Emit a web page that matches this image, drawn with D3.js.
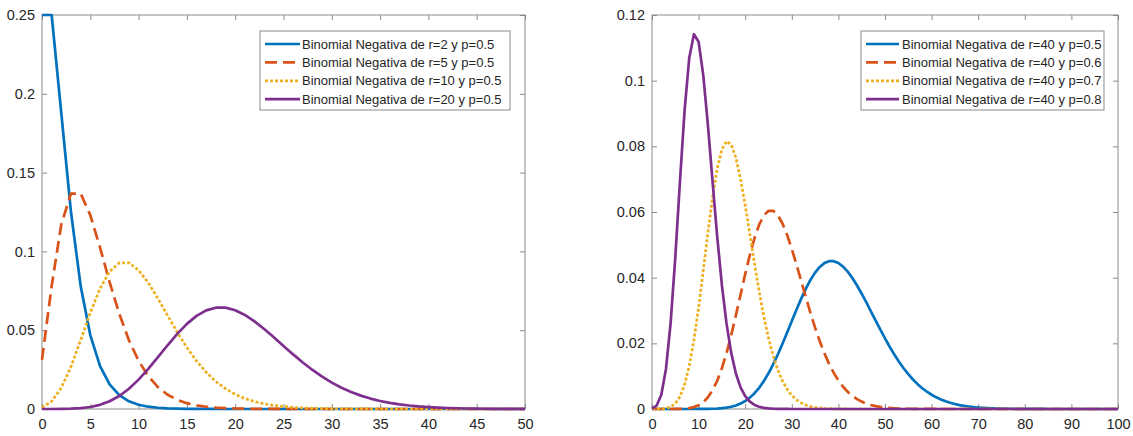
<!DOCTYPE html>
<html><head><meta charset="utf-8">
<script src="https://cdn.jsdelivr.net/npm/d3@7"></script>
<style>
body{margin:0;background:#fff}
svg{display:block}
text{font-family:"Liberation Sans",Arial,Helvetica,sans-serif}
</style>
</head><body>
<svg id="chart" width="1133" height="436"></svg>
<script>
// ---------- DATA ----------
const leftLabels = ["Binomial Negativa de r=2 y p=0.5","Binomial Negativa de r=5 y p=0.5","Binomial Negativa de r=10 y p=0.5","Binomial Negativa de r=20 y p=0.5"];
const rightLabels = ["Binomial Negativa de r=40 y p=0.5","Binomial Negativa de r=40 y p=0.6","Binomial Negativa de r=40 y p=0.7","Binomial Negativa de r=40 y p=0.8"];

const leftXTicks = [0,5,10,15,20,25,30,35,40,45,50];
const leftYTicks = [0,0.05,0.1,0.15,0.2,0.25];
const leftYTickLabels = ["0","0.05","0.1","0.15","0.2","0.25"];
const rightXTicks = [0,10,20,30,40,50,60,70,80,90,100];
const rightYTicks = [0,0.02,0.04,0.06,0.08,0.1,0.12];
const rightYTickLabels = ["0","0.02","0.04","0.06","0.08","0.1","0.12"];

// left panel, x = 0..50
const r2p5 = [0.25,0.25,0.1875,0.125,0.07813,0.04688,0.02734,0.01563,0.00879,0.00488,
  0.00269,0.00146,0.00079,0.00043,0.00023,0.00012,0.00006,0.00003,0.00002,0.00001,
  0,0,0,0,0,0,0,0,0,0,0,0,0,0,0,0,0,0,0,0,0,0,0,0,0,0,0,0,0,0,0];
const r5p5 = [0.03125,0.07813,0.11719,0.13672,0.13672,0.12305,0.10254,0.08057,0.06042,0.04364,
  0.03055,0.02083,0.01389,0.00908,0.00584,0.0037,0.00231,0.00143,0.00087,0.00053,
  0.00032,0.00019,0.00011,0.00007,0.00004,0.00002,
  0,0,0,0,0,0,0,0,0,0,0,0,0,0,0,0,0,0,0,0,0,0,0,0,0];
const r10p5 = [0.00098,0.00488,0.01343,0.02686,0.04364,0.0611,0.07637,0.08728,0.09274,0.09274,
  0.0881,0.08009,0.07008,0.0593,0.04871,0.03897,0.03044,0.02328,0.01746,0.01287,
  0.00933,0.00666,0.00469,0.00327,0.00225,0.00153,0.00103,0.00069,0.00045,0.0003,
  0.00019,0.00012,0.00008,0.00005,0.00003,0.00002,
  0,0,0,0,0,0,0,0,0,0,0,0,0,0,0];
const r20p5 = [0,0.00001,0.00005,0.00018,0.00053,0.00127,0.00264,0.0049,0.00827,0.01287,
  0.01865,0.02544,0.03286,0.04044,0.04766,0.05402,0.05908,0.06255,0.06429,0.06429,
  0.06269,0.0597,0.05563,0.05079,0.0455,0.04004,0.03465,0.02952,0.02477,0.0205,
  0.01674,0.0135,0.01076,0.00848,0.00661,0.0051,0.00389,0.00295,0.00221,0.00164,
  0.00121,0.00089,0.00064,0.00046,0.00033,0.00024,0.00017,0.00012,0.00008,0.00006,0.00004];

// right panel, x = 0..100
const r40p5 = [0,0,0,0,0,0,0,0,0,0,
  0.00001,0.00002,0.00004,0.00007,0.00013,0.00024,0.00041,0.00068,0.00108,0.00164,
  0.00242,0.00346,0.0048,0.00647,0.00849,0.01087,0.01359,0.01661,0.01987,0.0233,
  0.02679,0.03025,0.03355,0.0366,0.0393,0.04154,0.04327,0.04444,0.04503,0.04503,
  0.04446,0.04338,0.04183,0.03989,0.03762,0.03511,0.03244,0.02968,0.0269,0.02415,
  0.0215,0.01897,0.0166,0.0144,0.0124,0.0106,0.00899,0.00757,0.00633,0.00526,
  0.00434,0.00356,0.0029,0.00234,0.00189,0.00151,0.0012,0.00095,0.00075,0.00058,
  0.00046,0.00035,0.00027,0.00021,0.00016,0.00012,0.00009,0.00007,0.00005,0.00004,
  0.00003,0.00002,0.00002,0.00001,0.00001,0,0,0,0,0,
  0,0,0,0,0,0,0,0,0,0,0];
const r40p6 = [0,0,0,0,0,0.00001,0.00004,0.00012,0.00028,0.00059,
  0.00115,0.00209,0.00356,0.0057,0.00863,0.01242,0.01708,0.02251,0.02851,0.03481,
  0.04108,0.04695,0.05207,0.05614,0.05895,0.06037,0.06037,0.05902,0.05649,0.05299,
  0.04875,0.04403,0.03908,0.0341,0.02929,0.02477,0.02064,0.01696,0.01375,0.011,
  0.00869,0.00678,0.00523,0.00399,0.00301,0.00225,0.00166,0.00122,0.00088,0.00063,
  0.00045,0.00032,0.00022,0.00015,0.00011,0.00007,0.00005,0.00003,0.00002,0.00001,
  0.00001,0,0,0,0,0,0,0,0,0,
  0,0,0,0,0,0,0,0,0,0,
  0,0,0,0,0,0,0,0,0,0,
  0,0,0,0,0,0,0,0,0,0,0];
const r40p7 = [0,0.00001,0.00005,0.0002,0.00064,0.00168,0.00378,0.00745,0.01314,0.02102,
  0.0309,0.04213,0.05372,0.06447,0.07321,0.07907,0.08154,0.08058,0.07655,0.07011,
  0.06205,0.05318,0.04424,0.03577,0.02817,0.02164,0.01623,0.0119,0.00854,0.00601,
  0.00415,0.00281,0.00187,0.00122,0.00079,0.0005,0.00031,0.00019,0.00012,0.00007,
  0.00004,0.00002,0.00001,0,0,0,0,0,0,0,
  0,0,0,0,0,0,0,0,0,0,
  0,0,0,0,0,0,0,0,0,0,
  0,0,0,0,0,0,0,0,0,0,
  0,0,0,0,0,0,0,0,0,0,
  0,0,0,0,0,0,0,0,0,0,0];
const r40p8 = [0.00013,0.00106,0.00436,0.01221,0.02625,0.0462,0.06929,0.09107,0.10701,0.11414,
  0.11186,0.10169,0.08644,0.06915,0.05236,0.0377,0.02592,0.01708,0.01081,0.0066,
  0.0039,0.00223,0.00123,0.00067,0.00035,0.00018,0.00009,0.00004,0.00002,0.00001,
  0,0,0,0,0,0,0,0,0,0,
  0,0,0,0,0,0,0,0,0,0,
  0,0,0,0,0,0,0,0,0,0,
  0,0,0,0,0,0,0,0,0,0,
  0,0,0,0,0,0,0,0,0,0,
  0,0,0,0,0,0,0,0,0,0,
  0,0,0,0,0,0,0,0,0,0,0];

// ---------- STYLE ----------
const colors = ["#0072BD","#D95319","#EDB120","#7E2F8E"];
const dashes = [null,"12,6","3,2",null];
const axisColor = "#8a8a8a";
const textColor = "#262626";
const lineW = 2.7;

const svg = d3.select("#chart");

function panel(cfg){
  const {x0,x1,y0,y1,xMax,yMax,xTicks,yTicks,yLabels,series,labels,leg} = cfg;
  const x = d3.scaleLinear().domain([0,xMax]).range([x0,x1]);
  const y = d3.scaleLinear().domain([0,yMax]).range([y1,y0]);
  const g = svg.append("g");

  g.append("rect").attr("x",x0).attr("y",y0).attr("width",x1-x0).attr("height",y1-y0)
    .attr("fill","#fff").attr("stroke",axisColor).attr("stroke-width",1);

  const styleAxis = sel => {
    sel.select(".domain").remove();
    sel.selectAll(".tick line").attr("stroke",axisColor);
    sel.selectAll(".tick text").attr("fill",textColor)
      .style("font-size","14.5px").style("font-family","'Liberation Sans',Arial,sans-serif");
  };
  g.append("g").attr("transform",`translate(0,${y1})`)
    .call(d3.axisBottom(x).tickValues(xTicks).tickFormat(d3.format("d")).tickSizeInner(-5).tickSizeOuter(0).tickPadding(10))
    .call(styleAxis);
  g.append("g").attr("transform",`translate(0,${y0})`)
    .call(d3.axisTop(x).tickValues(xTicks).tickFormat("").tickSizeInner(-5).tickSizeOuter(0))
    .call(styleAxis);
  g.append("g").attr("transform",`translate(${x0},0)`)
    .call(d3.axisLeft(y).tickValues(yTicks).tickFormat((d,i)=>yLabels[i]).tickSizeInner(-5).tickSizeOuter(0).tickPadding(7))
    .call(styleAxis);
  g.append("g").attr("transform",`translate(${x1},0)`)
    .call(d3.axisRight(y).tickValues(yTicks).tickFormat("").tickSizeInner(-5).tickSizeOuter(0))
    .call(styleAxis);

  const line = d3.line().x((d,i)=>x(i)).y(d=>y(d));
  series.forEach((s,k)=>{
    g.append("path").datum(s).attr("d",line).attr("fill","none")
      .attr("stroke",colors[k]).attr("stroke-width",lineW)
      .attr("stroke-linejoin","round")
      .attr("stroke-dasharray",dashes[k]);
  });

  const lg = g.append("g");
  lg.append("rect").attr("x",leg.x0).attr("y",leg.y0).attr("width",leg.x1-leg.x0).attr("height",leg.y1-leg.y0)
    .attr("fill","#fff").attr("stroke",axisColor).attr("stroke-width",1);
  labels.forEach((t,k)=>{
    const yy = leg.rowY0 + k*leg.rowH;
    lg.append("line").attr("x1",leg.sx0).attr("x2",leg.sx1).attr("y1",yy).attr("y2",yy)
      .attr("stroke",colors[k]).attr("stroke-width",lineW).attr("stroke-dasharray",dashes[k]);
    lg.append("text").attr("x",leg.tx).attr("y",yy).attr("dy","0.35em")
      .attr("fill",textColor).style("font-size","13px").text(t);
  });
}

panel({x0:42,x1:525,y0:15,y1:409,xMax:50,yMax:0.25,
  xTicks:leftXTicks,yTicks:leftYTicks,yLabels:leftYTickLabels,
  series:[r2p5,r5p5,r10p5,r20p5],labels:leftLabels,
  leg:{x0:260,x1:510,y0:31,y1:110,sx0:265,sx1:300,tx:302,rowY0:44,rowH:18.4}});

panel({x0:652,x1:1118,y0:15,y1:409,xMax:100,yMax:0.12,
  xTicks:rightXTicks,yTicks:rightYTicks,yLabels:rightYTickLabels,
  series:[r40p5,r40p6,r40p7,r40p8],labels:rightLabels,
  leg:{x0:861,x1:1104,y0:31,y1:110,sx0:866,sx1:899,tx:902,rowY0:44,rowH:18.4}});
</script>
</body></html>
